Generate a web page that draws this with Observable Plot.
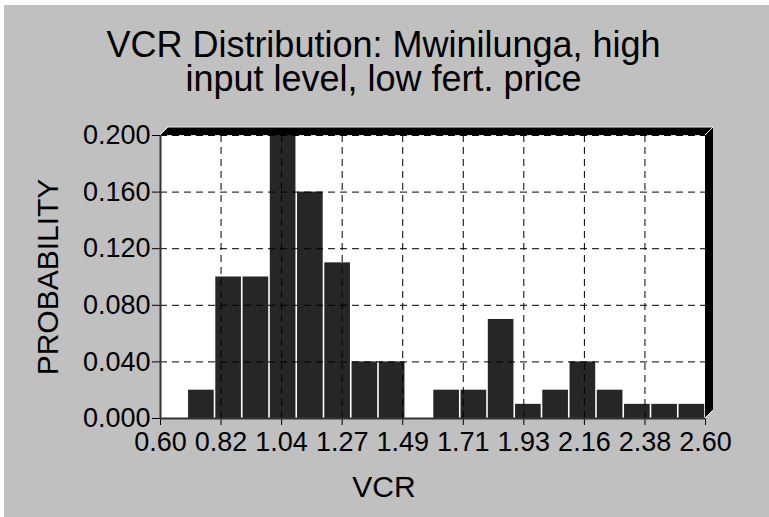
<!DOCTYPE html>
<html><head><meta charset="utf-8">
<script src="https://cdn.jsdelivr.net/npm/d3@7"></script>
<script src="https://cdn.jsdelivr.net/npm/@observablehq/plot@0.6"></script>
<style>
body{margin:0;background:#fff;}
#panel{position:absolute;left:4px;top:5px;width:765px;height:512px;background:#c0c0c0;font-family:"Liberation Sans",Arial,sans-serif;overflow:hidden;}
.tline{position:absolute;left:-3px;width:100%;text-align:center;font-size:36px;line-height:34px;height:34px;color:#000;white-space:nowrap;}
#t1{top:22.5px;}
#t2{top:56.5px;}
#chart{position:absolute;left:0;top:105px;}
</style></head><body>
<div id="panel"><div class="tline" id="t1">VCR Distribution: Mwinilunga, high</div><div class="tline" id="t2">input level, low fert. price</div><div id="chart"></div></div>
<script>
// Histogram bins (VCR) and their probabilities
const binLower = [0.6,0.7,0.8,0.9,1.0,1.1,1.2,1.3,1.4,1.5,1.6,1.7,1.8,1.9,2.0,2.1,2.2,2.3,2.4,2.5];
const binUpper = [0.7,0.8,0.9,1.0,1.1,1.2,1.3,1.4,1.5,1.6,1.7,1.8,1.9,2.0,2.1,2.2,2.3,2.4,2.5,2.6];
const probability = [0,0.02,0.10,0.10,0.20,0.16,0.11,0.04,0.04,0,0.02,0.02,0.07,0.01,0.02,0.04,0.02,0.01,0.01,0.01];

const xTicks = [0.6,0.8222,1.0444,1.2667,1.4889,1.7111,1.9333,2.1556,2.3778,2.6];
const xTickLabels = ["0.60","0.82","1.04","1.27","1.49","1.71","1.93","2.16","2.38","2.60"];
const yTicks = [0,0.04,0.08,0.12,0.16,0.2];
const yTickLabels = ["0.000","0.040","0.080","0.120","0.160","0.200"];
const xDomain = [0.6, 2.6];
const yDomain = [0, 0.2];
const xLabel = "VCR";
const yLabel = "PROBABILITY";

const bins = binLower.map((lo, i) => ({lo, hi: binUpper[i], p: probability[i]}));

function bevel(index, scales, values, dim) {
  const L = dim.marginLeft, R = dim.width - dim.marginRight;
  const T = dim.marginTop, B = dim.height - dim.marginBottom, d = 8;
  const g = d3.create("svg:g");
  g.append("path")
    .attr("d", `M${L},${T}L${L+d},${T-d}L${R+d},${T-d}L${R+d},${B-d}L${R},${B}L${R},${T}Z`)
    .attr("fill", "#000");
  g.append("path")
    .attr("d", `M${L},${T}L${L+d},${T-d}L${R+d},${T-d}M${R},${T}L${R+d},${T-d}M${R},${B}L${R+d},${B-d}`)
    .attr("fill", "none").attr("stroke", "#f0f0f0").attr("stroke-width", 1);
  return g.node();
}

const chart = Plot.plot({
  width: 765,
  height: 407,
  marginLeft: 156,
  marginRight: 64,
  marginTop: 25,
  marginBottom: 99,
  style: {fontFamily: "'Liberation Sans', Arial, sans-serif", fontSize: "27px", background: "transparent", color: "#000"},
  x: {domain: xDomain, ticks: xTicks, tickFormat: (d, i) => xTickLabels[i], tickSize: 7, tickPadding: 6, label: null},
  y: {domain: yDomain, ticks: yTicks, tickFormat: (d, i) => yTickLabels[i], tickSize: 8, tickPadding: 2, label: null},
  marks: [
    Plot.frame({fill: "#fff", stroke: "none"}),
    Plot.rectY(bins, {x1: "lo", x2: "hi", y: "p", fill: "#262626", insetLeft: 0.8, insetRight: 0.8}),
    Plot.ruleX(xTicks, {stroke: "#000", strokeWidth: 1, strokeDasharray: "7,5"}),
    Plot.ruleY(yTicks, {stroke: "#000", strokeWidth: 1, strokeDasharray: "7,5"}),
    Plot.ruleX([xDomain[0]], {stroke: "#333", strokeWidth: 2}),
    Plot.ruleY([yDomain[0]], {stroke: "#333", strokeWidth: 2}),
    bevel,
    Plot.text([yLabel], {frameAnchor: "left", rotate: -90, textAnchor: "middle", lineAnchor: "middle", dx: -112, fontSize: 30, fill: "#000"}),
    Plot.text([xLabel], {frameAnchor: "bottom", textAnchor: "middle", lineAnchor: "middle", dx: -49, dy: 69, fontSize: 30, fill: "#000"})
  ]
});
document.getElementById("chart").appendChild(chart);
</script>
</body></html>
